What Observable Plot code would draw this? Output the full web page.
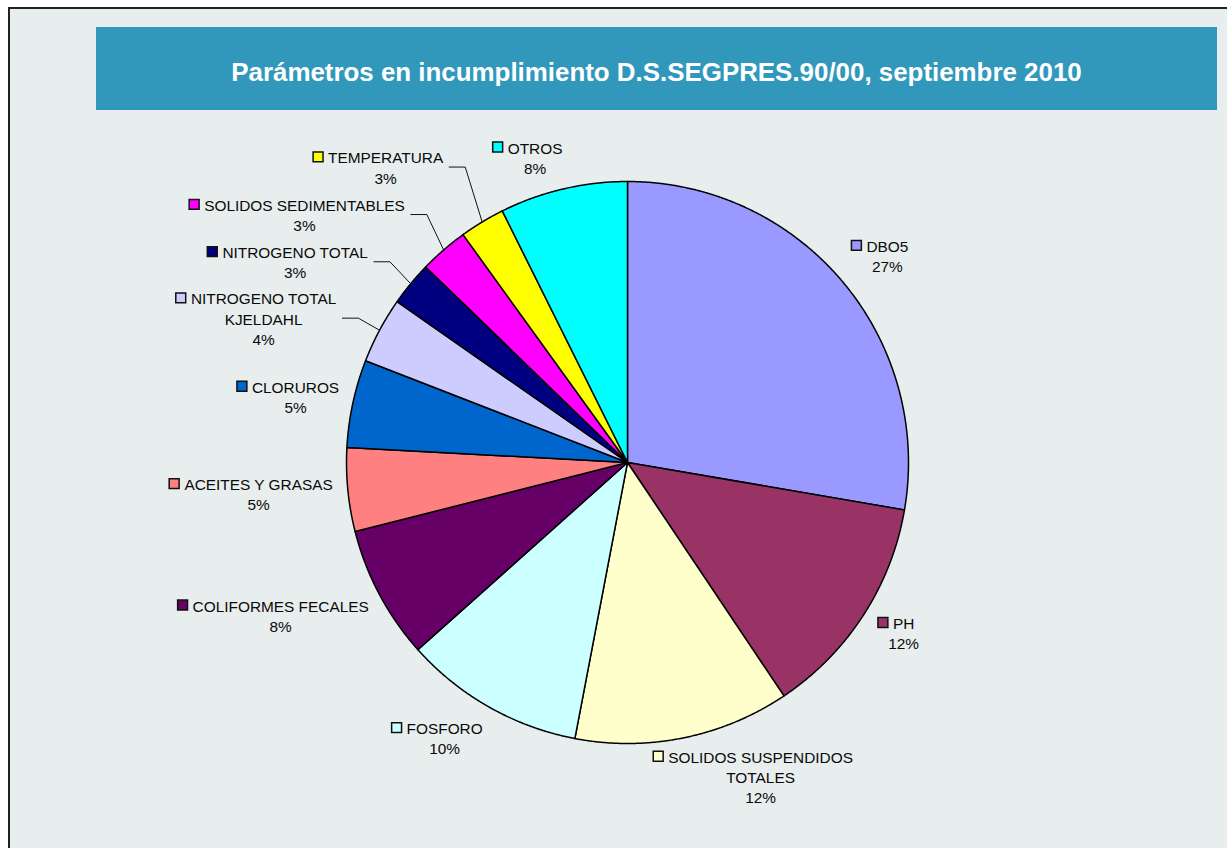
<!DOCTYPE html>
<html>
<head>
<meta charset="utf-8">
<script src="https://cdn.jsdelivr.net/npm/d3@7"></script>
<script src="https://cdn.jsdelivr.net/npm/@observablehq/plot@0.6"></script>
<style>
  html, body { margin: 0; padding: 0; background: #ffffff; }
  body { width: 1227px; height: 848px; overflow: hidden; position: relative; font-family: "Liberation Sans", Arial, sans-serif; }
  #frame { position: absolute; left: 8px; top: 7px; width: 1240px; height: 860px; background: #E8EEEE; border-left: 2px solid #222; border-top: 2px solid #222; }
  #titlebar { position: absolute; left: 96px; top: 27px; width: 1121px; height: 83px; background: #3298BB; }
  #titletext { position: absolute; left: 0; right: 0; top: 33px; text-align: center; color: #ffffff; font-weight: bold; font-size: 25.9px; line-height: 1; white-space: nowrap; }
  #chart { position: absolute; left: 0; top: 0; }
</style>
</head>
<body>
<div id="frame"></div>
<div id="titlebar"><div id="titletext">Parámetros en incumplimiento D.S.SEGPRES.90/00, septiembre 2010</div></div>
<div id="chart"></div>
<script>
// ---- data ----
const categories = [
  "DBO5", "PH", "SOLIDOS SUSPENDIDOS\nTOTALES", "FOSFORO", "COLIFORMES FECALES",
  "ACEITES Y GRASAS", "CLORUROS", "NITROGENO TOTAL\nKJELDAHL", "NITROGENO TOTAL",
  "SOLIDOS SEDIMENTABLES", "TEMPERATURA", "OTROS"
];
const values = [27.7, 12.9, 12.4, 10.4, 7.65, 4.8, 5.05, 3.8, 2.55, 2.8, 2.6, 7.35];
const percentLabels = ["27%", "12%", "12%", "10%", "8%", "5%", "5%", "4%", "3%", "3%", "3%", "8%"];
const colors = ["#9999FF", "#993366", "#FFFFCC", "#CCFFFF", "#660066", "#FF8080",
                "#0066CC", "#CCCCFF", "#000080", "#FF00FF", "#FFFF00", "#00FFFF"];

// ---- layout (label placement like the original chart) ----
const labelAngleNudge = [1.74, -1.14, -11.38, 3.98, 4.09, 0.58, -1.05, -6.58, -8.51, -11.74, -8.26, -3.67];
const labelRadius = [1.180, 1.156, 1.217, 1.179, 1.350, 1.318, 1.204, 1.392, 1.380, 1.447, 1.356, 1.132];
const hasLeader = [false, false, false, false, false, false, false, true, true, true, true, false];

const W = 1227, H = 848;
const cx = 627, cy = 462, R = 281;
const fontSize = 15.4, lineH = 20.3;
const fontFamily = "'Liberation Sans', Arial, sans-serif";

const ctx = document.createElement("canvas").getContext("2d");
ctx.font = `${fontSize}px ${fontFamily}`;
const tw = s => ctx.measureText(s).width;

const total = d3.sum(values);
const rad = deg => deg * Math.PI / 180;

const slicePts = [];
const labels = [];
const swatches = [];
const leaders = [];
let acc = 0;
values.forEach((v, i) => {
  const a0 = acc / total * 360;
  acc += v;
  const a1 = acc / total * 360;
  const name = categories[i];
  slicePts.push({name, x: 0, y: 0});
  const n = Math.max(2, Math.ceil((a1 - a0) / 0.25));
  for (let k = 0; k <= n; k++) {
    const a = rad(a0 + (a1 - a0) * k / n);
    slicePts.push({name, x: Math.sin(a), y: Math.cos(a)});
  }
  slicePts.push({name, x: 0, y: 0});

  const mid = (a0 + a1) / 2;
  const la = rad(mid + labelAngleNudge[i]);
  const lx = labelRadius[i] * Math.sin(la);
  const ly = labelRadius[i] * Math.cos(la) + 1 / R;
  const lines = (name + "\n" + percentLabels[i]).split("\n");
  labels.push({name, x: lx, y: ly, text: lines.join("\n")});
  const w1 = tw(lines[0]);
  const firstY = ly + ((lines.length - 1) / 2) * lineH / R;
  swatches.push({name, x: lx - (w1 / 2 + 10) / R, y: firstY});
  if (hasLeader[i]) {
    const maxW = d3.max(lines, tw);
    const xEnd = lx + (maxW / 2 + 6) / R;
    const m = rad(mid);
    leaders.push({name, x: Math.sin(m), y: Math.cos(m)});
    leaders.push({name, x: xEnd + 16 / R, y: ly});
    leaders.push({name, x: xEnd, y: ly});
  }
});

const chart = Plot.plot({
  width: W,
  height: H,
  margin: 0,
  style: {background: "transparent", overflow: "visible"},
  x: {domain: [-1, 1], range: [cx - R, cx + R], axis: null},
  y: {domain: [-1, 1], range: [cy + R, cy - R], axis: null},
  color: {type: "ordinal", domain: categories, range: colors},
  marks: [
    Plot.line(slicePts, {x: "x", y: "y", z: "name", fill: "name", stroke: "#000", strokeWidth: 1.5, strokeLinejoin: "round"}),
    Plot.line(leaders, {x: "x", y: "y", z: "name", stroke: "#111", strokeWidth: 1}),
    Plot.dot(swatches, {x: "x", y: "y", fill: "name", symbol: "square", r: 5.6, stroke: "#111", strokeWidth: 1.5}),
    Plot.text(labels, {x: "x", y: "y", text: "text", fontSize: fontSize, fontFamily: fontFamily, fill: "#0a0a0a", textAnchor: "middle", lineAnchor: "middle", lineHeight: lineH / fontSize})
  ]
});
document.getElementById("chart").appendChild(chart);
</script>
</body>
</html>
